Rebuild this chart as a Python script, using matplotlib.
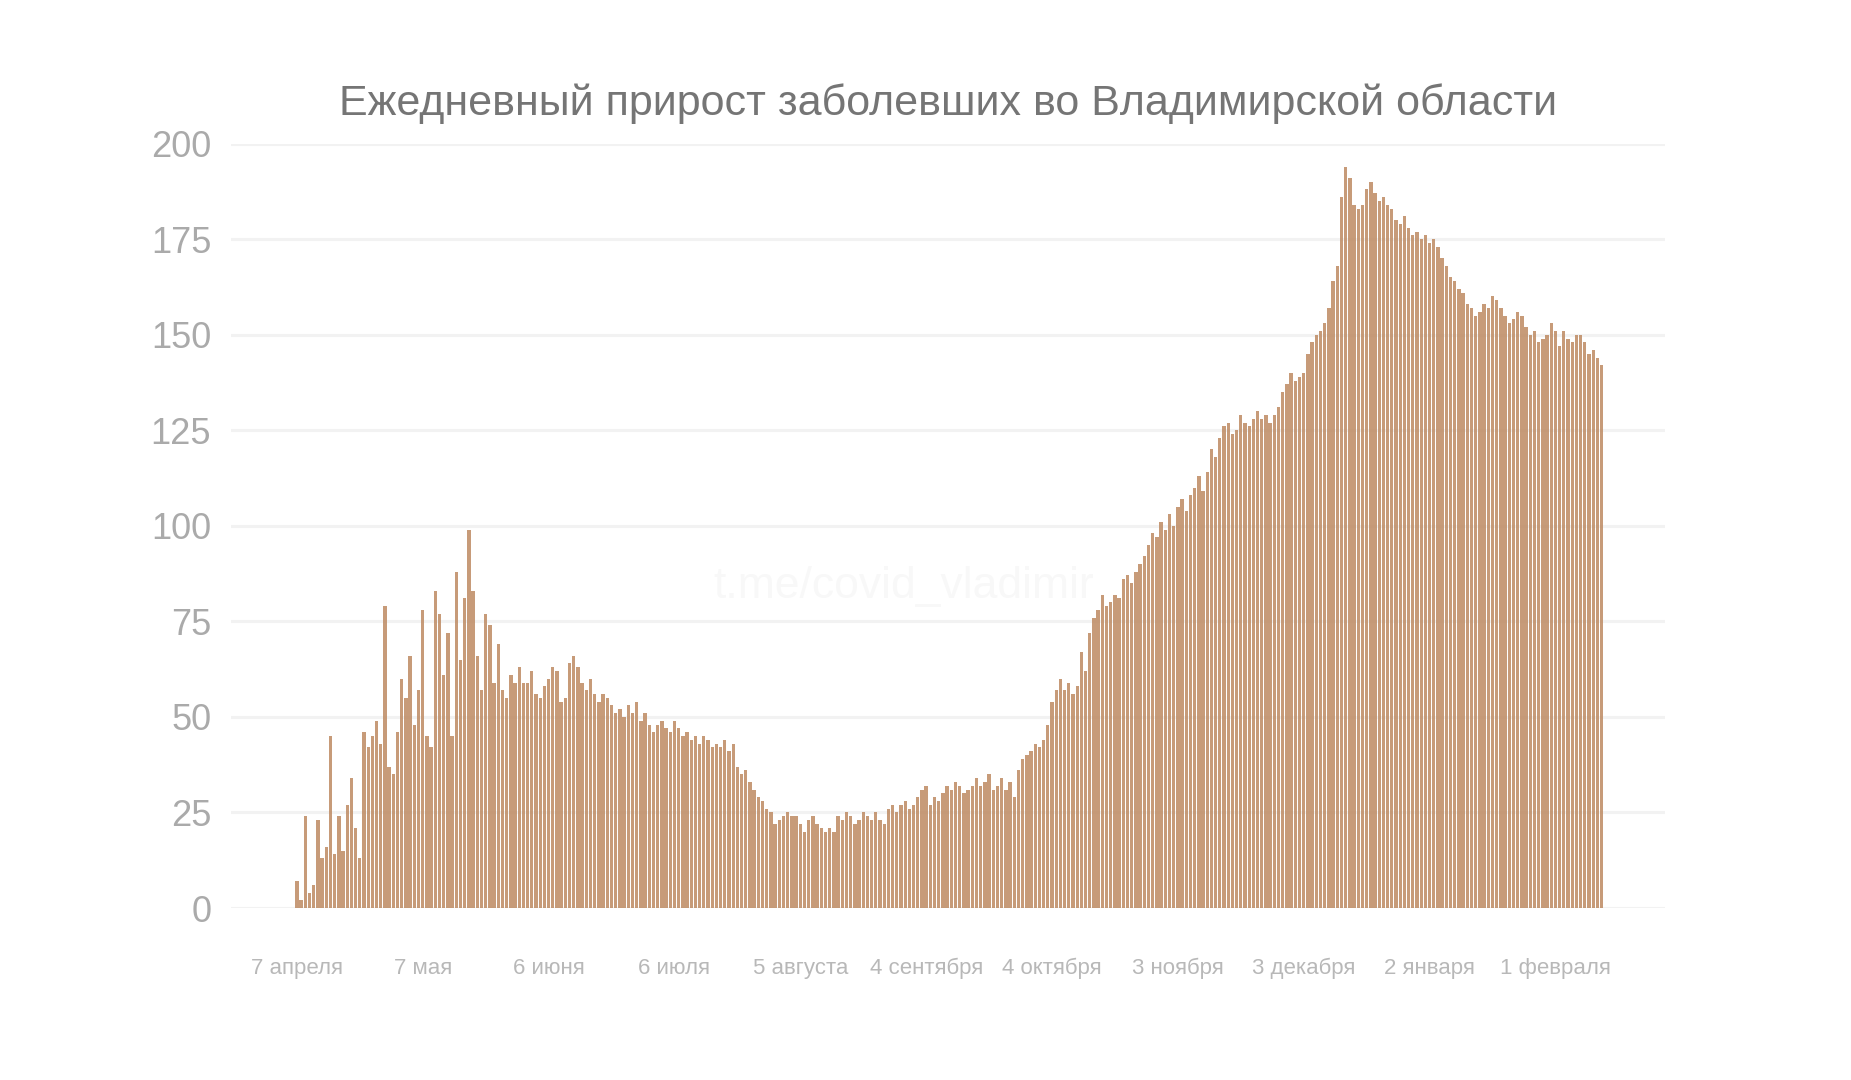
import matplotlib
matplotlib.use("Agg")
import matplotlib.pyplot as plt
import numpy as np

plt.rcParams["font.family"] = "Liberation Sans"

part1 = [7,2,24,4,6,23,13,16,45,14,24,15,27,34,21,13,46,42,45,49,43,79,37,35,46,60,55,66,48,57,
         78,45,42,83,77,61,72,45,88,65,81,99,83,66,57,77,74,59,69,57,55,61,59,63]
part2 = [59,59,62,56,55,58,60,63,62,54,55,64,66,63,59,57,60,56,54,56,55,53,51,52,50,53,51,54,49,51,
         48,46,48,49,47,46,49,47,45,46,44,45,43,45,44,42,43,42,44,41,43,37,35]
part3 = [36,33,31,29,28,26,25,22,23,24,25,24,24,22,20,23,24,22,21,20,21,20,24,23,25,24,22,23,25,24,
         23,25,23,22,26,27,25,27,28,26,27,29,31,32,27,29,28,30,32,31,33,32]
part4 = [30,31,32,34,32,33,35,31,32,34,31,33,29,36,39,40,41,43,42,44,48,54,57,60,57,59,56,58,67,62,
         72,76,78,82,79,80,82,81,86,87,85,88,90,92,95,98,97,101,99,103,100,105,107]
part5 = [104,108,110,113,109,114,120,118,123,126,127,124,125,129,127,126,128,130,128,129,127,129,131,135,137,140,
         138,139,140,145,148,150,151,153,157,164,168,186,194,191,184,183,184,188,190,187,185,186,184,183,180,179]
part6 = [181,178,176,177,175,176,174,175,173,170,168,165,164,162,161,158,157,155,156,158,157,160,159,157,155,153,
         154,156,155,152,150,151,148,149,150,153,151,147,151,149,148,150,150,148,145,146,144,142]
values = part1 + part2 + part3 + part4 + part5 + part6

tick_labels = ["7 апреля", "7 мая", "6 июня", "6 июля", "5 августа", "4 сентября",
               "4 октября", "3 ноября", "3 декабря", "2 января", "1 февраля"]
tick_days = [0, 30, 60, 90, 120, 150, 180, 210, 240, 270, 300]

fig = plt.figure(figsize=(18.51, 10.8), dpi=100)
left, right, top, bottom = 230.6, 1664.5, 143.6, 908.0
ax = fig.add_axes([left/1851, 1-bottom/1080, (right-left)/1851, (bottom-top)/1080])
x = np.arange(len(values))
ax.bar(x, values, width=0.8, color="#bd8a62", alpha=0.85, zorder=3)
ax.set_ylim(0, 200)
ax.set_xlim(-15.8, 326)
ax.set_yticks([0, 25, 50, 75, 100, 125, 150, 175, 200])
for y in [0, 25, 50, 75, 100, 125, 150, 175, 200]:
    ax.axhline(y, color="#f2f2f2", lw=2.2, zorder=1)
ax.set_xticks(tick_days)
ax.set_xticklabels(tick_labels, fontsize=16, color="#b8b8b8")
ax.tick_params(axis="y", labelsize=26, labelcolor="#aaaaaa", length=0, pad=14)
ax.tick_params(axis="x", length=0, pad=36)
for s in ax.spines.values():
    s.set_visible(False)
ax.grid(False)
fig.text(0.488, 0.457, "t.me/covid_vladimir", fontsize=32, color="#f8f8f8", ha="center", va="center", zorder=0)
fig.text(948/1851, 1-104/1080, "Ежедневный прирост заболевших во Владимирской области",
         fontsize=31, color="#757575", ha="center", va="center")
fig.savefig("out.png", dpi=100)
